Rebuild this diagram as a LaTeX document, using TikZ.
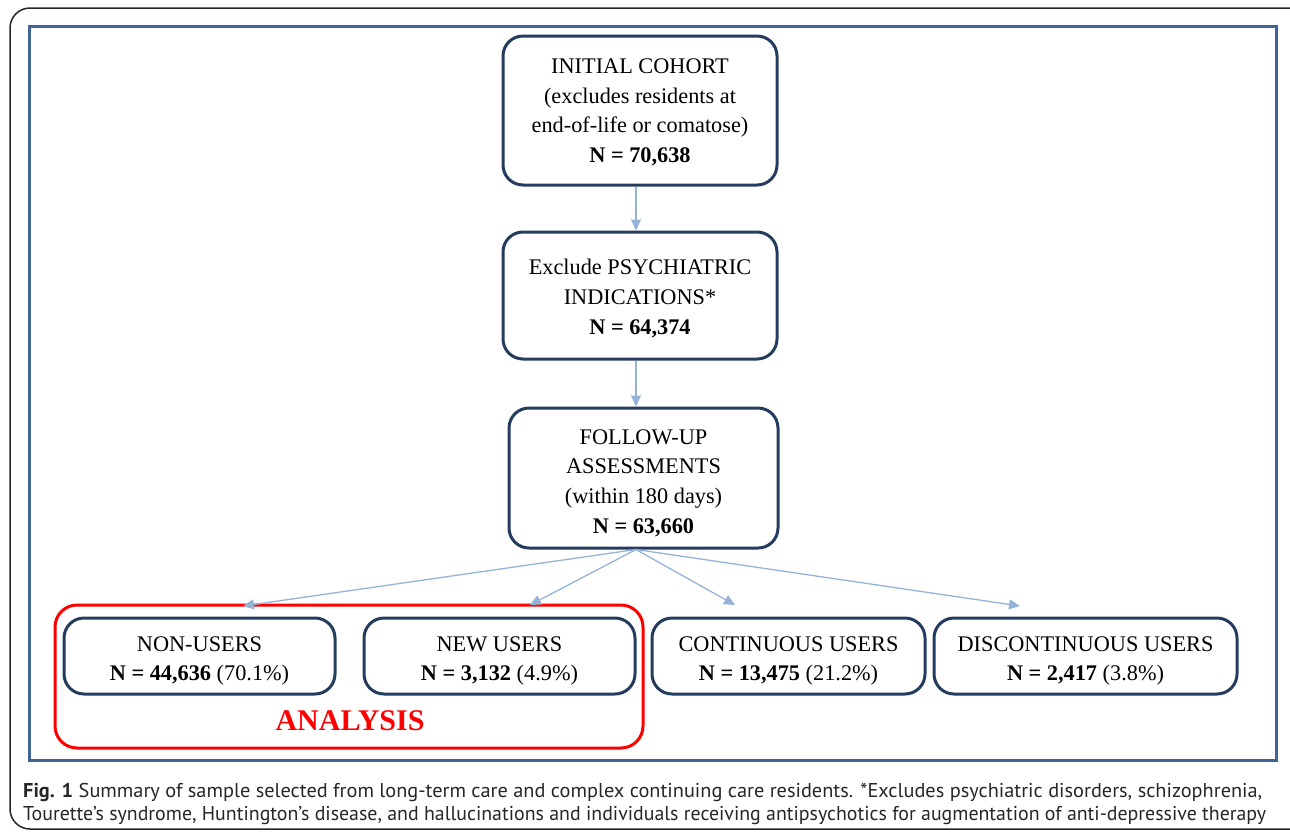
\documentclass[tikz,border=0pt]{standalone}
\usepackage{fontspec}
\setmainfont{Liberation Serif}
\newfontfamily\capfont{PT Sans}
\usetikzlibrary{arrows.meta,calc}
\definecolor{boxnavy}{HTML}{243D5E}
\definecolor{arrowblue}{HTML}{95B3D7}
\definecolor{framblue}{HTML}{3F6595}
\definecolor{anared}{HTML}{FF0000}
\definecolor{capgray}{HTML}{262626}
\begin{document}
\begin{tikzpicture}[x=1pt,y=-1pt,
  flowbox/.style={draw=boxnavy,line width=3pt,rounded corners=20pt,inner sep=0pt},
  boxtext/.style={align=center,inner sep=0pt,font=\fontsize{22.3}{29.6}\selectfont},
  flowarrow/.style={draw=arrowblue,line width=1.3pt,-{Triangle[length=11pt,width=10pt]}},
  captext/.style={anchor=base west,inner sep=0pt,text=capgray,font=\capfont\fontsize{20}{23}\selectfont}]
\useasboundingbox (0,0) rectangle (1290,831);
\draw[line width=1.5pt,black!85,rounded corners=20pt] (10,8) rectangle (1310,829);
\draw[line width=3pt,framblue] (29.5,26.5) rectangle (1276,760);
% red analysis box
\draw[line width=3pt,anared,rounded corners=22pt] (55,605) rectangle (643,748);
\node[inner sep=0pt,text=anared,font=\bfseries\fontsize{30}{32}\selectfont] (ana) at (350,721) {ANALYSIS};
% boxes
\node[flowbox,minimum width=274pt,minimum height=149pt] (b1) at (640,110.5) {};
\node[boxtext] (b1t) at ($(b1)+(0,2)$)
  {INITIAL COHORT\\(excludes residents at\\end-of-life or comatose)\\\textbf{N = 70,638}};
\node[flowbox,minimum width=274pt,minimum height=127pt] (b2) at (640,295.5) {};
\node[boxtext] (b2t) at ($(b2)+(0,3)$)
  {Exclude PSYCHIATRIC\\INDICATIONS*\\\textbf{N = 64,374}};
\node[flowbox,minimum width=269pt,minimum height=140pt] (b3) at (643.5,478) {};
\node[boxtext] (b3t) at ($(b3)+(0,5)$)
  {FOLLOW-UP\\ASSESSMENTS\\(within 180 days)\\\textbf{N = 63,660}};
\node[flowbox,minimum width=271pt,minimum height=76pt] (nu) at (199.5,656) {};
\node[boxtext] (nut) at ($(nu)+(0,5)$) {NON-USERS\\\textbf{N = 44,636} (70.1\%)};
\node[flowbox,minimum width=271pt,minimum height=76pt] (new) at (499.5,656) {};
\node[boxtext] (newt) at ($(new)+(0,5)$) {NEW USERS\\\textbf{N = 3,132} (4.9\%)};
\node[flowbox,minimum width=273pt,minimum height=76pt] (cu) at (788.5,656) {};
\node[boxtext] (cut) at ($(cu)+(0,5)$) {CONTINUOUS USERS\\\textbf{N = 13,475} (21.2\%)};
\node[flowbox,minimum width=303pt,minimum height=76pt] (du) at (1085.5,656) {};
\node[boxtext] (dut) at ($(du)+(0,5)$) {DISCONTINUOUS USERS\\\textbf{N = 2,417} (3.8\%)};
% arrow coordinates
\coordinate (s1) at ($(b1.south)+(-4,0)$);
\coordinate (e1) at ($(b2.north)+(-4,0)$);
\coordinate (s2) at ($(b2.south)+(-4,0)$);
\coordinate (e2) at ($(b3.north)+(-7.5,0)$);
\coordinate (s3) at ($(b3.south)+(-7.5,0)$);
\coordinate (t1) at (243,606);
\coordinate (t2) at (530,605);
\coordinate (t3) at (735,605);
\coordinate (t4) at (1020,606);
\draw[flowarrow] (s1) -- (e1);
\draw[flowarrow] (s2) -- (e2);
\draw[flowarrow] (s3) -- (t1);
\draw[flowarrow] (s3) -- (t2);
\draw[flowarrow] (s3) -- (t3);
\draw[flowarrow] (s3) -- (t4);
% caption
\node[captext] (cap1) at (23,797) {\resizebox{1239pt}{\height}{\textbf{Fig. 1} Summary of sample selected from long-term care and complex continuing care residents. *Excludes psychiatric disorders, schizophrenia,}};
\node[captext] (cap2) at (23,820) {\resizebox{1243pt}{\height}{Tourette’s syndrome, Huntington’s disease, and hallucinations and individuals receiving antipsychotics for augmentation of anti-depressive therapy}};
\end{tikzpicture}
\end{document}
